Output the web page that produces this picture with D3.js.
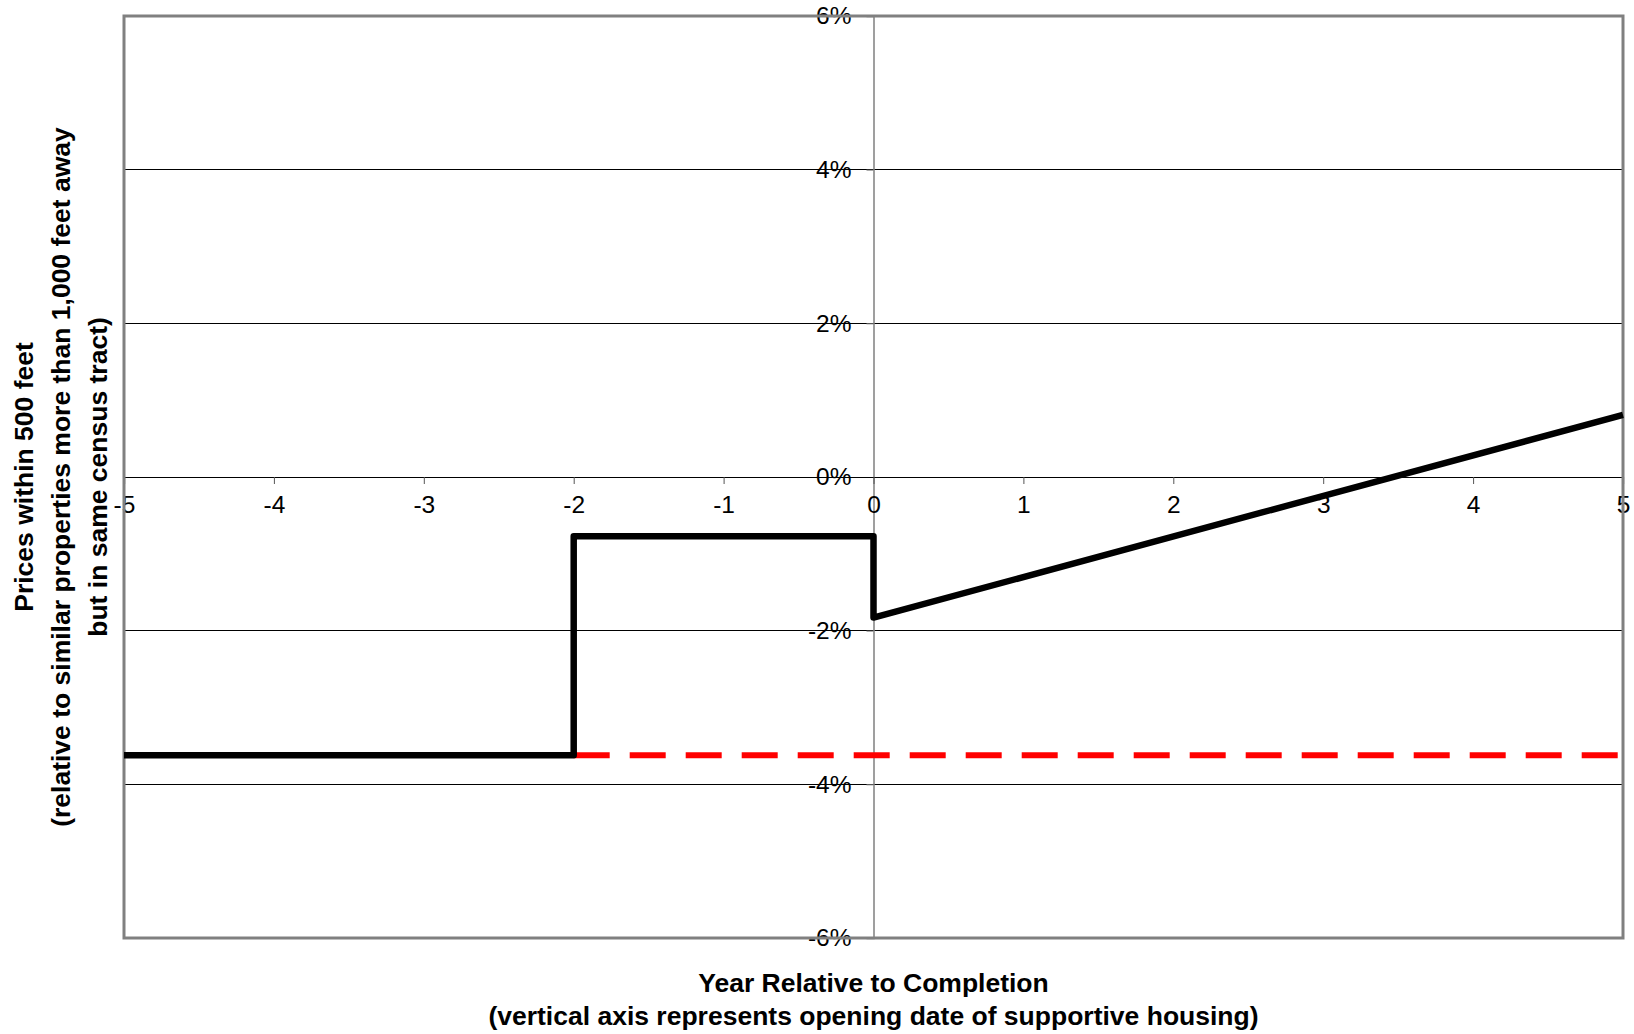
<!DOCTYPE html>
<html><head><meta charset="utf-8">
<script src="https://cdn.jsdelivr.net/npm/d3@7"></script>
<style>body{margin:0;background:#fff}svg{display:block}text{font-family:Arial,"Liberation Sans",sans-serif}</style>
</head><body>
<script>
const xTicks = [-5,-4,-3,-2,-1,0,1,2,3,4,5];
const yTicks = [-0.06,-0.04,-0.02,0,0.02,0.04,0.06];
const blackX = [-5,-2,-2,0,0,5];
const blackY = [-0.0362,-0.0362,-0.0077,-0.0077,-0.0183,0.0081];
const redX = [-2,5];
const redY = [-0.0362,-0.0362];
const xTitle = ["Year Relative to Completion","(vertical axis represents opening date of supportive housing)"];
const yTitle = ["Prices within 500 feet","(relative to similar properties more than 1,000 feet away","but in same census tract)"];

const W=1634,H=1034;
const L=124,R=1623,T=16,B=938;
const svg=d3.select("body").append("svg").attr("width",W).attr("height",H);
const x=d3.scaleLinear().domain([-5,5]).range([L,R]);
const y=d3.scaleLinear().domain([-0.06,0.06]).range([B,T]);

// gridlines
svg.append("g").selectAll("line").data(yTicks.filter(d=>d!==0&&Math.abs(d)<0.06)).join("line")
  .attr("x1",L).attr("x2",R).attr("y1",d=>y(d)).attr("y2",d=>y(d))
  .attr("stroke","#000").attr("stroke-width",1).attr("shape-rendering","crispEdges");

// y axis at x=0 (gray)
const yAx=svg.append("g").attr("transform",`translate(${x(0)},0)`)
  .call(d3.axisLeft(y).tickValues(yTicks).tickFormat(d=>Math.round(d*100)+"%").tickSize(7).tickPadding(15));
yAx.select(".domain").attr("stroke","#808080").attr("stroke-width",1.5);
yAx.selectAll(".tick line").attr("stroke","#808080");
yAx.selectAll(".tick text").attr("font-size",24.5).attr("fill","#000").attr("font-family","Arial,'Liberation Sans',sans-serif");

// x axis at y=0 (black)
const xAx=svg.append("g").attr("transform",`translate(0,${y(0)})`)
  .call(d3.axisBottom(x).tickValues(xTicks).tickFormat(d=>d).tickSize(7).tickPadding(12));
xAx.select(".domain").attr("stroke","#000").attr("stroke-width",1.2);
xAx.selectAll(".tick line").attr("stroke","#555");
xAx.selectAll(".tick text").attr("font-size",24.5).attr("fill","#000").attr("font-family","Arial,'Liberation Sans',sans-serif");

// plot border
svg.append("rect").attr("x",L).attr("y",T).attr("width",R-L).attr("height",B-T)
  .attr("fill","none").attr("stroke","#808080").attr("stroke-width",3);

// lines
const line=d3.line().x(d=>x(d[0])).y(d=>y(d[1]));
svg.append("path").datum(redX.map((v,i)=>[v,redY[i]])).attr("d",line)
  .attr("fill","none").attr("stroke","#ff0000").attr("stroke-width",6).attr("stroke-dasharray","36,20");
svg.append("path").datum(blackX.map((v,i)=>[v,blackY[i]])).attr("d",line)
  .attr("fill","none").attr("stroke","#000").attr("stroke-width",6.5).attr("stroke-linejoin","round");

// titles
svg.append("g").selectAll("text").data(xTitle).join("text")
  .attr("x",(L+R)/2).attr("y",(d,i)=>992+i*33).attr("text-anchor","middle")
  .attr("font-size",26.5).attr("font-weight","bold").text(d=>d);
svg.append("g").selectAll("text").data(yTitle).join("text")
  .attr("transform",(d,i)=>`translate(${33+i*37},${(T+B)/2}) rotate(-90)`)
  .attr("text-anchor","middle").attr("font-size",26.5).attr("font-weight","bold").text(d=>d);
</script>
</body></html>
